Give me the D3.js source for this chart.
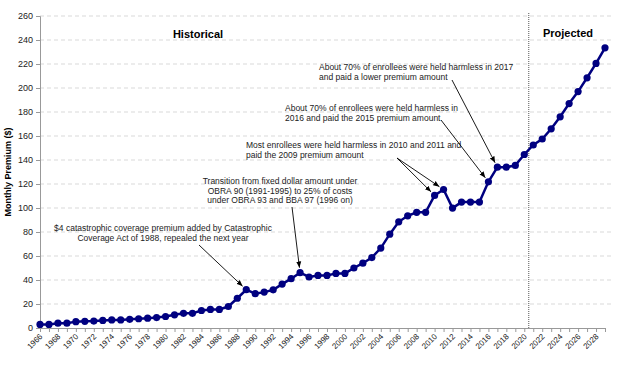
<!DOCTYPE html>
<html>
<head>
<meta charset="utf-8">
<script src="https://cdn.jsdelivr.net/npm/d3@7"></script>
<style>
  body { margin: 0; background: #fff; }
  text { font-family: "Liberation Sans", Arial, sans-serif; }
</style>
</head>
<body>
<div id="chart"></div>
<script>
// Medicare Part B monthly premium, 1966-2029 (2021 on projected)
var years = d3.range(1966, 2030);
var premiums = [
    3.0, 3.0, 4.0, 4.0, 5.3, 5.6, 5.8, 6.3, 6.7, 6.7,
    7.2, 7.7, 8.2, 8.7, 9.6, 11.0, 12.2, 12.2, 14.6, 15.5,
    15.5, 17.9, 24.8, 31.9, 28.6, 29.9, 31.8, 36.6, 41.1, 46.1,
    42.5, 43.8, 43.8, 45.5, 45.5, 50.0, 54.0, 58.7, 66.6, 78.2,
    88.5, 93.5, 96.4, 96.4, 110.5, 115.4, 99.9, 104.9, 104.9, 104.9,
    121.8, 134.0, 134.0, 135.5, 144.6, 152.5, 157.5, 166.0, 176.0, 187.0,
    197.0, 208.5, 220.5, 233.5
];
var lastHistorical = 2020;
var yTicks = d3.range(0, 261, 20);
var xLabels = d3.range(1966, 2029, 2);

var notes = [
    {lines: ["$4 catastrophic coverage premium added by Catastrophic", "Coverage Act of 1988, repealed the next year"],
     x: 163, y: 231, anchor: "middle", arrows: [{from: [199, 245], year: 1989}]},
    {lines: ["Transition from fixed dollar amount under", "OBRA 90 (1991-1995) to 25% of costs", "under OBRA 93 and BBA 97 (1996 on)"],
     x: 280, y: 184, anchor: "middle", arrows: [{from: [292, 207], year: 1995}]},
    {lines: ["Most enrollees were held harmless in 2010 and 2011 and", "paid the 2009 premium amount"],
     x: 246, y: 148, anchor: "start", arrows: [{from: [397, 158], year: 2010}, {from: [397, 158], year: 2011}]},
    {lines: ["About 70% of enrollees were held harmless in", "2016 and paid the 2015 premium amount"],
     x: 285, y: 111, anchor: "start", arrows: [{from: [441, 120], year: 2016}]},
    {lines: ["About 70% of enrollees were held harmless in 2017", "and paid a lower premium amount"],
     x: 319, y: 70, anchor: "start", arrows: [{from: [452, 80], year: 2017}]}
];

var W = 619, H = 366;
var svg = d3.select("#chart").append("svg")
    .attr("width", W)
    .attr("height", H);

var x = d3.scalePoint()
    .domain(years)
    .range([40, 605]);
var y = d3.scaleLinear()
    .domain([0, 260])
    .range([328, 16]);

svg.append("defs").append("marker")
    .attr("id", "arrow")
    .attr("viewBox", "0 0 10 10")
    .attr("refX", 10).attr("refY", 5)
    .attr("markerWidth", 7).attr("markerHeight", 7)
    .attr("orient", "auto")
    .append("path")
    .attr("d", "M0,1 L10,5 L0,9 Z")
    .attr("fill", "#000");

// gridlines
svg.append("g")
    .selectAll("line")
    .data(yTicks.filter(function (d) { return d > 0; }))
    .enter()
    .append("line")
    .attr("x1", 40).attr("x2", 612)
    .attr("y1", function (d) { return y(d); })
    .attr("y2", function (d) { return y(d); })
    .attr("stroke", "#d9d9d9")
    .attr("stroke-dasharray", "4,3");

// Y axis
var yAxis = svg.append("g")
    .attr("transform", "translate(40,0)")
    .call(d3.axisLeft(y).tickValues(yTicks).tickSize(4).tickPadding(3));
yAxis.select(".domain").attr("stroke", "#999");
yAxis.selectAll(".tick line").attr("stroke", "#999");
yAxis.selectAll("text").attr("font-size", 9).attr("fill", "#222")
    .style("font-family", "'Liberation Sans', Arial, sans-serif");

svg.append("text")
    .attr("transform", "translate(11,172) rotate(-90)")
    .attr("text-anchor", "middle")
    .attr("font-size", 9)
    .attr("font-weight", "bold")
    .text("Monthly Premium ($)");

// X axis
var xAxis = svg.append("g")
    .attr("transform", "translate(0,328)")
    .call(d3.axisBottom(x).tickValues(years).tickSize(4).tickFormat(""));
xAxis.select(".domain").attr("stroke", "#999");
xAxis.selectAll(".tick line").attr("stroke", "#999");

svg.append("g")
    .selectAll("text")
    .data(xLabels)
    .enter()
    .append("text")
    .attr("transform", function (d) {
        return "translate(" + (x(d) + 3) + ",337) rotate(-45)";
    })
    .attr("text-anchor", "end")
    .attr("font-size", 8)
    .attr("fill", "#222")
    .text(function (d) { return d; });

// historical / projected divider
var divX = (x(lastHistorical) + x(lastHistorical + 1)) / 2;
svg.append("line")
    .attr("x1", divX).attr("x2", divX)
    .attr("y1", 13).attr("y2", 328)
    .attr("stroke", "#555")
    .attr("stroke-dasharray", "1,1");

svg.append("text")
    .attr("x", 198).attr("y", 38)
    .attr("text-anchor", "middle")
    .attr("font-size", 11)
    .attr("font-weight", "bold")
    .text("Historical");
svg.append("text")
    .attr("x", 568).attr("y", 37)
    .attr("text-anchor", "middle")
    .attr("font-size", 11)
    .attr("font-weight", "bold")
    .text("Projected");

// the series
var line = d3.line()
    .x(function (d, i) { return x(years[i]); })
    .y(function (d) { return y(d); });

svg.append("path")
    .datum(premiums)
    .attr("fill", "none")
    .attr("stroke", "#000080")
    .attr("stroke-width", 2.5)
    .attr("d", line);

svg.append("g")
    .selectAll("circle")
    .data(premiums)
    .enter()
    .append("circle")
    .attr("cx", function (d, i) { return x(years[i]); })
    .attr("cy", function (d) { return y(d); })
    .attr("r", 3.6)
    .attr("fill", "#000080");

// annotations
notes.forEach(function (n) {
    var t = svg.append("text")
        .attr("x", n.x).attr("y", n.y)
        .attr("text-anchor", n.anchor)
        .attr("font-size", 8.5)
        .attr("fill", "#222");
    n.lines.forEach(function (l, i) {
        t.append("tspan")
            .attr("x", n.x)
            .attr("dy", i === 0 ? 0 : 9.6)
            .text(l);
    });
    n.arrows.forEach(function (a) {
        var v = premiums[years.indexOf(a.year)];
        var tx = x(a.year), ty = y(v);
        var dx = tx - a.from[0], dy = ty - a.from[1];
        var len = Math.sqrt(dx * dx + dy * dy);
        var gap = 5;
        svg.append("line")
            .attr("x1", a.from[0]).attr("y1", a.from[1])
            .attr("x2", tx - dx / len * gap).attr("y2", ty - dy / len * gap)
            .attr("stroke", "#000")
            .attr("stroke-width", 0.9)
            .attr("marker-end", "url(#arrow)");
    });
});
</script>
</body>
</html>
